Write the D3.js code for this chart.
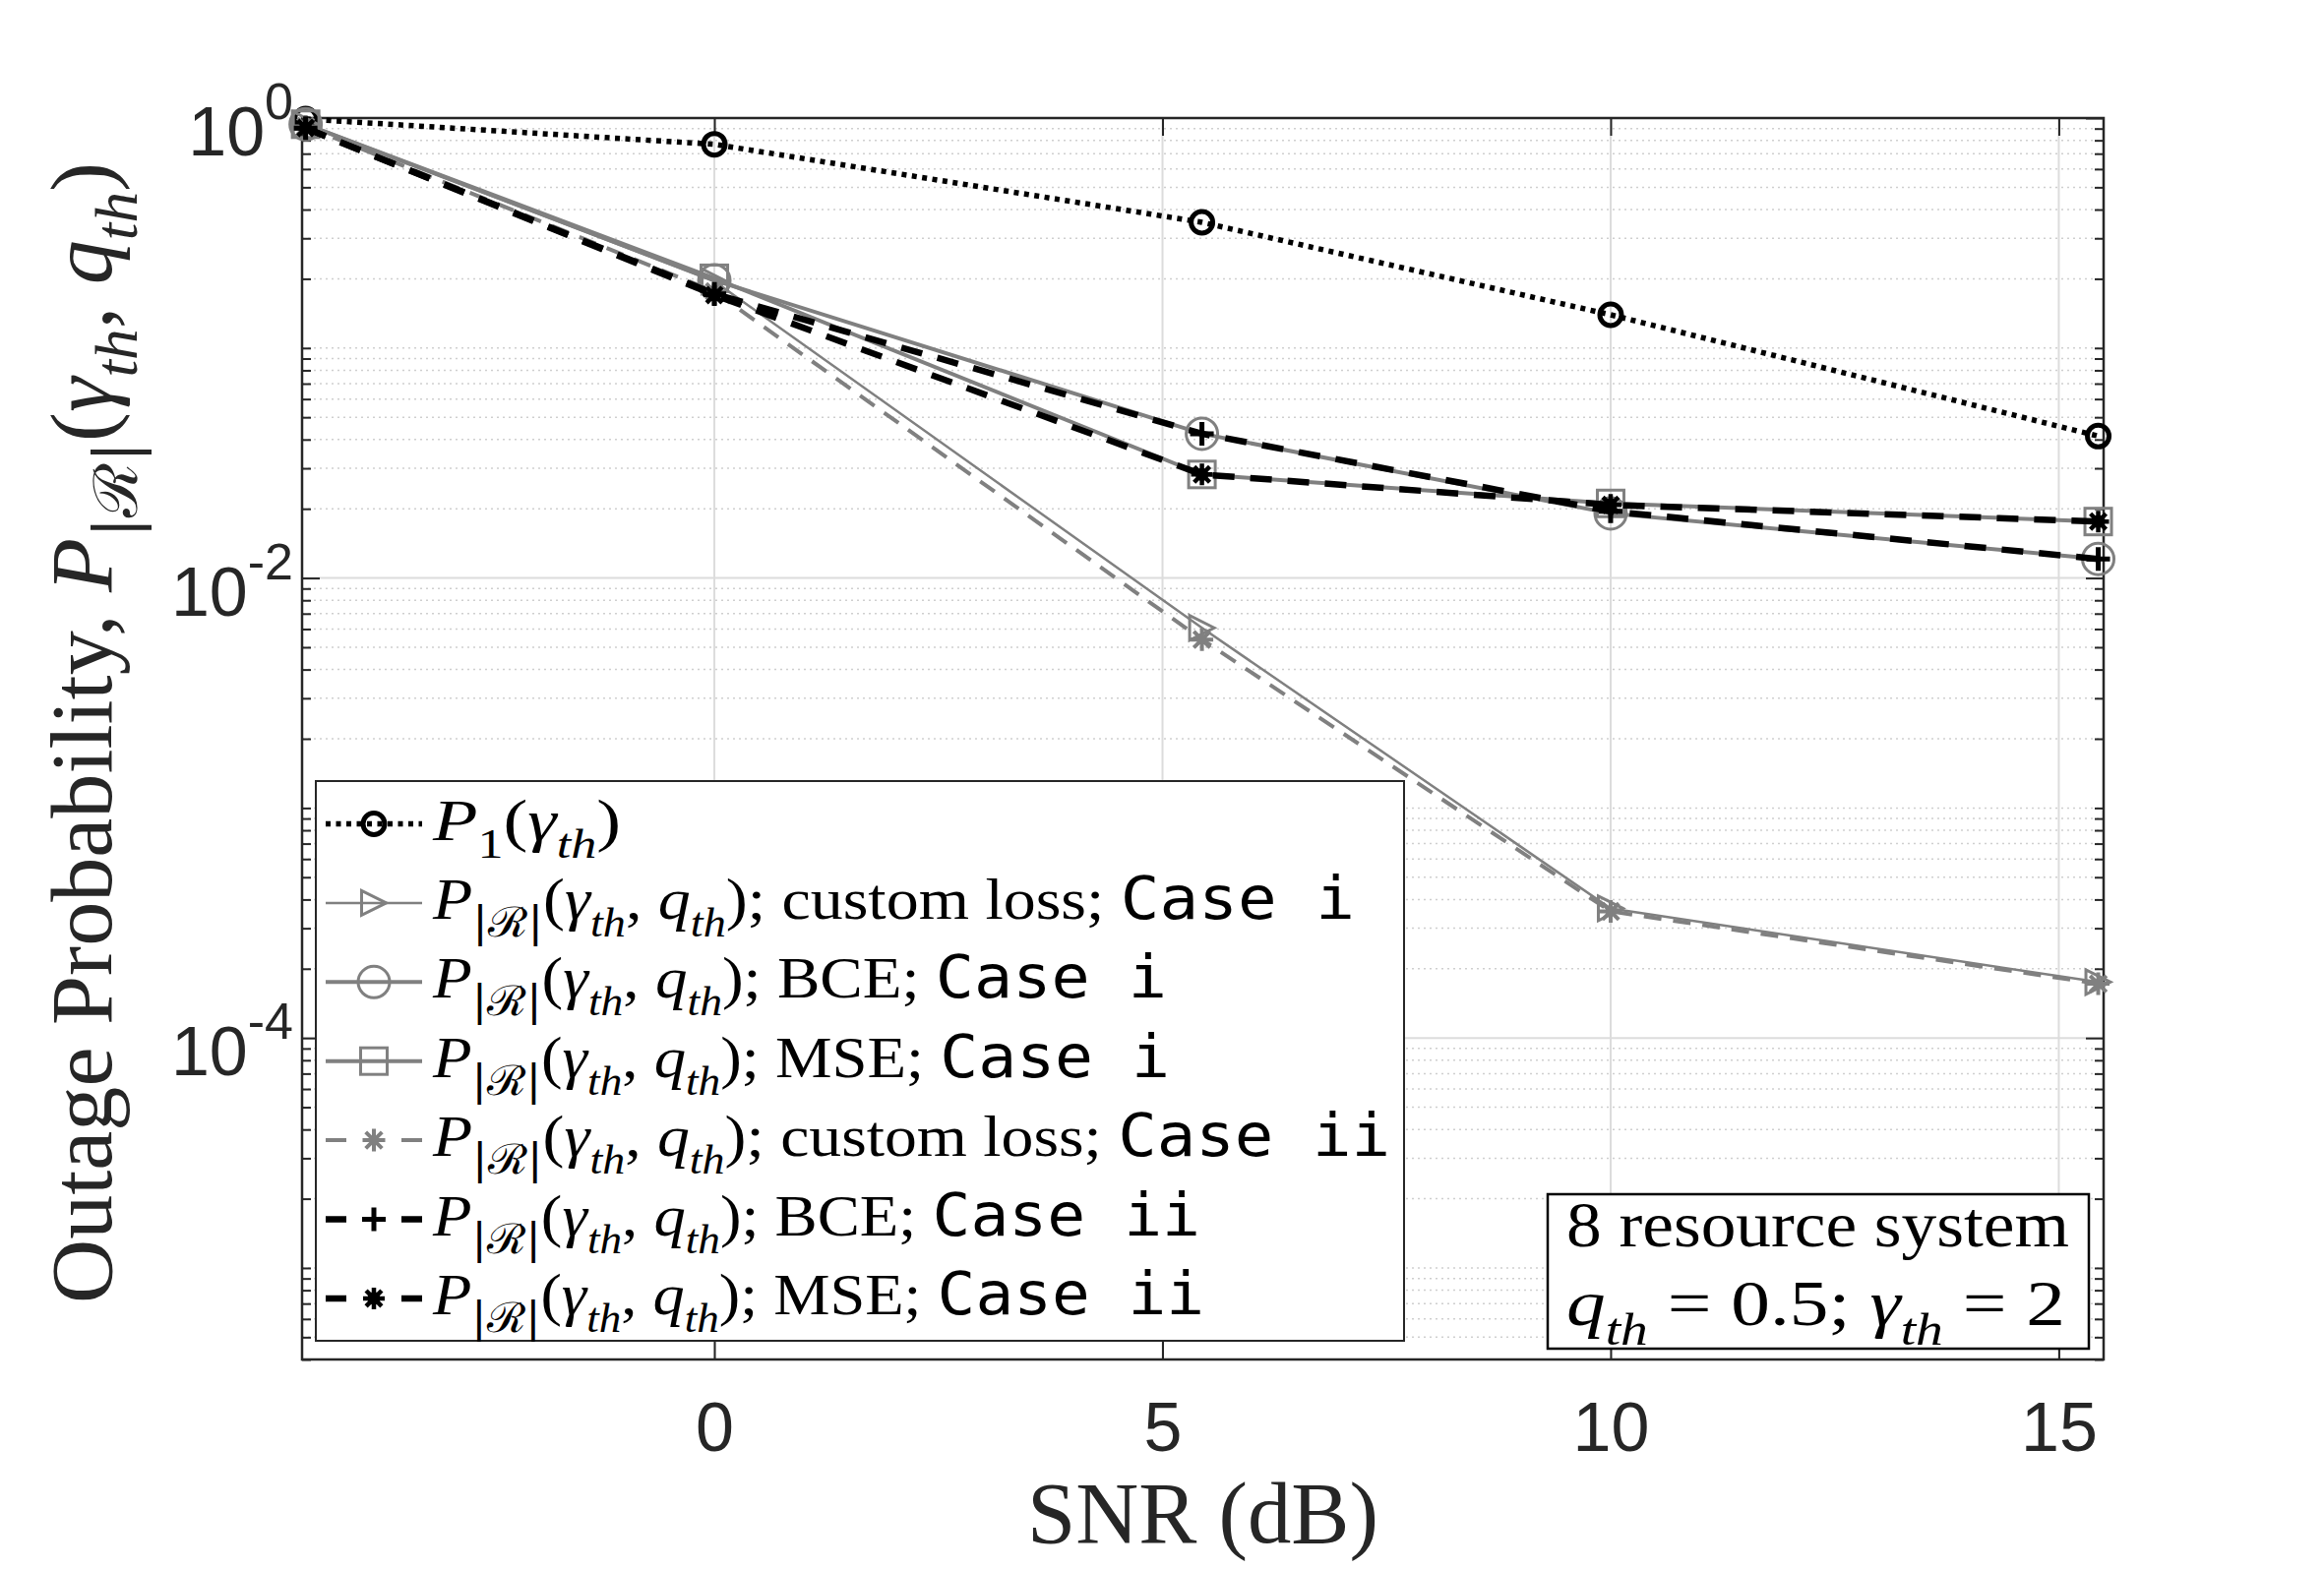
<!DOCTYPE html>
<html>
<head>
<meta charset="utf-8">
<script src="https://cdn.jsdelivr.net/npm/d3@7"></script>
<style>
  body { margin: 0; background: #fff; }
</style>
</head>
<body>
<svg id="chart"></svg>
<script>
// values (SNR in dB, outage probability)
const snrDb = [-4.56, 0, 5.44, 10, 15.44];
const p1 = [0.99, 0.769, 0.352, 0.1395, 0.0414];
const customCaseI = [0.94, 0.195, 0.00607, 3.66e-4, 1.75e-4];
const bceCaseI = [0.94, 0.197, 0.0424, 0.0191, 0.0121];
const mseCaseI = [0.94, 0.201, 0.0282, 0.0211, 0.0176];
const customCaseII = [0.92, 0.176, 0.0054, 3.55e-4, 1.72e-4];
const bceCaseII = [0.905, 0.172, 0.0424, 0.0195, 0.0121];
const mseCaseII = [0.905, 0.170, 0.0282, 0.0208, 0.0176];

const xTicks = [0, 5, 10, 15];
const yTickExps = [0, -2, -4];

// legend labels: [text, style] pieces
const mathPR = [["P", "i"], ["|ℛ|", "subcal"], ["(", "r"], ["γ", "i"], ["th", "subi"], [", ", "r"], ["q", "i"], ["th", "subi"], [")", "r"], ["; ", "r"]];
const legendLabels = [
  [["P", "i"], ["1", "sub"], ["(", "r"], ["γ", "i"], ["th", "subi"], [")", "r"]],
  mathPR.concat([["custom loss; ", "r"], ["Case i", "mono"]]),
  mathPR.concat([["BCE; ", "r"], ["Case i", "mono"]]),
  mathPR.concat([["MSE; ", "r"], ["Case i", "mono"]]),
  mathPR.concat([["custom loss; ", "r"], ["Case ii", "mono"]]),
  mathPR.concat([["BCE; ", "r"], ["Case ii", "mono"]]),
  mathPR.concat([["MSE; ", "r"], ["Case ii", "mono"]])
];
const legendWidths = [191, 937, 746, 749, 973, 780, 784];

const W = 2362, H = 1595;
const box = { left: 307, right: 2138, top: 120, bottom: 1382 };
const gray = "#808080", ink = "#262626";

const series = [
  { values: p1, color: "#000", width: 5.5, dash: "5 5.5", marker: "circle", size: 11, mw: 5 },
  { values: customCaseI, color: gray, width: 2.5, dash: null, marker: "triangle", size: 25, mw: 3 },
  { values: bceCaseI, color: gray, width: 4, dash: null, marker: "circle", size: 16, mw: 3 },
  { values: mseCaseI, color: gray, width: 4, dash: null, marker: "square", size: 27, mw: 3 },
  { values: customCaseII, color: gray, width: 4, dash: "18 12", marker: "asterisk", size: 23, mw: 4 },
  { values: bceCaseII, color: "#000", width: 6.5, dash: "22 16", marker: "plus", size: 24, mw: 5 },
  { values: mseCaseII, color: "#000", width: 6.5, dash: "22 16", marker: "blob", size: 22, mw: 4.5 }
];

const svg = d3.select("#chart").attr("width", W).attr("height", H)
  .style("font-family", "'Liberation Serif', serif");

const x = d3.scaleLinear().domain([-4.6, 15.5]).range([box.left, box.right]);
const y = d3.scaleLog().domain([4e-6, 1]).range([box.bottom, box.top]);

const majorY = yTickExps.map(e => Math.pow(10, e));
const minorY = [];
for (let k = 0; k >= -6; k--) {
  for (let m = 1; m <= 9; m++) {
    const v = m * Math.pow(10, k);
    if (v < 4e-6 || v > 1) continue;
    if (m === 1 && yTickExps.includes(k)) continue;
    minorY.push(v);
  }
}

// grid
const grid = svg.append("g");
grid.selectAll(".minor").data(minorY).enter().append("line")
  .attr("x1", box.left).attr("x2", box.right)
  .attr("y1", d => y(d)).attr("y2", d => y(d))
  .attr("stroke", "#cfcfcf").attr("stroke-width", 1.5).attr("stroke-dasharray", "2 4");
grid.selectAll(".majory").data(majorY).enter().append("line")
  .attr("x1", box.left).attr("x2", box.right)
  .attr("y1", d => y(d)).attr("y2", d => y(d))
  .attr("stroke", "#dcdcdc").attr("stroke-width", 2);
grid.selectAll(".majorx").data(xTicks).enter().append("line")
  .attr("x1", d => x(d)).attr("x2", d => x(d))
  .attr("y1", box.top).attr("y2", box.bottom)
  .attr("stroke", "#dcdcdc").attr("stroke-width", 2);

// axes (ticks inward, on all four sides)
function styleAxis(g) {
  g.select(".domain").remove();
  g.selectAll(".tick line").attr("stroke", ink).attr("stroke-width", 2);
}
svg.append("g").attr("transform", `translate(0,${box.bottom})`)
  .call(d3.axisBottom(x).tickValues(xTicks).tickSize(-18).tickPadding(43).tickFormat(d3.format("d")))
  .call(styleAxis)
  .call(g => g.selectAll("text").attr("fill", ink).attr("font-size", 70)
    .attr("font-family", "'Liberation Sans', Arial, sans-serif"));
svg.append("g").attr("transform", `translate(0,${box.top})`)
  .call(d3.axisTop(x).tickValues(xTicks).tickSize(-18).tickFormat(""))
  .call(styleAxis);
[[d3.axisLeft, box.left], [d3.axisRight, box.right]].forEach(([ax, pos]) => {
  svg.append("g").attr("transform", `translate(${pos},0)`)
    .call(ax(y).tickValues(majorY).tickSize(-18).tickFormat(""))
    .call(styleAxis);
  svg.append("g").attr("transform", `translate(${pos},0)`)
    .call(ax(y).tickValues(minorY).tickSize(-9).tickFormat(""))
    .call(styleAxis);
});
svg.append("rect")
  .attr("x", box.left).attr("y", box.top)
  .attr("width", box.right - box.left).attr("height", box.bottom - box.top)
  .attr("fill", "none").attr("stroke", ink).attr("stroke-width", 2.5);

// y tick labels 10^k
const yLab = svg.append("g").attr("font-family", "'Liberation Sans', Arial, sans-serif")
  .attr("fill", ink).attr("text-anchor", "end");
yTickExps.forEach(e => {
  const t = yLab.append("text").attr("x", 298).attr("y", y(Math.pow(10, e)) + 38).attr("font-size", 70);
  t.append("tspan").text("10");
  t.append("tspan").text(e === 0 ? "0" : "-" + Math.abs(e)).attr("font-size", 52).attr("dy", -37);
});

// markers
function drawMarker(g, type, cx, cy, s, color, mw) {
  const h = s / 2;
  if (type === "circle") {
    g.append("circle").attr("cx", cx).attr("cy", cy).attr("r", s)
      .attr("fill", "none").attr("stroke", color).attr("stroke-width", mw);
  } else if (type === "square") {
    g.append("rect").attr("x", cx - h).attr("y", cy - h).attr("width", s).attr("height", s)
      .attr("fill", "none").attr("stroke", color).attr("stroke-width", mw);
  } else if (type === "triangle") {
    g.append("path").attr("d", `M${cx + h},${cy}L${cx - h},${cy - h}L${cx - h},${cy + h}Z`)
      .attr("fill", "none").attr("stroke", color).attr("stroke-width", mw);
  } else {
    const d = h * 0.72;
    let p = `M${cx - h},${cy}L${cx + h},${cy}M${cx},${cy - h}L${cx},${cy + h}`;
    if (type !== "plus") p += `M${cx - d},${cy - d}L${cx + d},${cy + d}M${cx - d},${cy + d}L${cx + d},${cy - d}`;
    g.append("path").attr("d", p).attr("fill", "none").attr("stroke", color).attr("stroke-width", mw);
    if (type === "blob") g.append("circle").attr("cx", cx).attr("cy", cy).attr("r", h * 0.6).attr("fill", color);
  }
}

const line = d3.line().x(d => x(d[0])).y(d => y(d[1]));
const plot = svg.append("g");
series.forEach(s => {
  const pts = snrDb.map((v, i) => [v, s.values[i]]);
  plot.append("path").datum(pts).attr("d", line)
    .attr("fill", "none").attr("stroke", s.color).attr("stroke-width", s.width)
    .attr("stroke-dasharray", s.dash);
  pts.forEach(p => drawMarker(plot, s.marker, x(p[0]), y(p[1]), s.size, s.color, s.mw));
});

// rich text helper
function addRich(text, segs, size) {
  let shift = 0;
  segs.forEach(([t, st]) => {
    const isSub = st.startsWith("sub");
    const target = isSub ? size * 0.3 : 0;
    const ts = text.append("tspan").text(t);
    if (target - shift !== 0) ts.attr("dy", target - shift);
    shift = target;
    if (isSub) ts.attr("font-size", size * 0.7);
    if (st === "i" || st === "subi") ts.attr("font-style", "italic");
    if (st === "subcal") ts.attr("font-family", "'DejaVu Serif', serif");
    if (st === "mono") ts.attr("font-family", "'DejaVu Sans Mono', monospace");
  });
}

// legend
const lg = svg.append("g");
lg.append("rect").attr("x", 321).attr("y", 794).attr("width", 1106).attr("height", 569)
  .attr("fill", "#fff").attr("stroke", ink).attr("stroke-width", 2);
series.forEach((s, i) => {
  const cy = 837.5 + i * 80.4;
  lg.append("line").attr("x1", 331).attr("x2", 429).attr("y1", cy).attr("y2", cy)
    .attr("stroke", s.color).attr("stroke-width", s.width)
    .attr("stroke-dasharray", s.dash ? (i === 0 ? s.dash : "21 56") : null);
  drawMarker(lg, s.marker, 380, cy, s.size, s.color, s.mw);
  const t = lg.append("text").attr("x", 440).attr("y", cy + 16).attr("font-size", 60)
    .attr("fill", "#000")
    .attr("textLength", legendWidths[i]).attr("lengthAdjust", "spacingAndGlyphs");
  addRich(t, legendLabels[i], 60);
});

// annotation box
const ann = svg.append("g");
ann.append("rect").attr("x", 1573).attr("y", 1214).attr("width", 550).attr("height", 157)
  .attr("fill", "#fff").attr("stroke", "#000").attr("stroke-width", 2.5);
ann.append("text").attr("x", 1592).attr("y", 1267).attr("font-size", 66)
  .attr("textLength", 511).attr("lengthAdjust", "spacingAndGlyphs").text("8 resource system");
const ann2 = ann.append("text").attr("x", 1592).attr("y", 1347).attr("font-size", 66)
  .attr("textLength", 507).attr("lengthAdjust", "spacingAndGlyphs");
addRich(ann2, [["q", "i"], ["th", "subi"], [" = 0.5; ", "r"], ["γ", "i"], ["th", "subi"], [" = 2", "r"]], 66);

// axis labels
svg.append("text").attr("x", (box.left + box.right) / 2).attr("y", 1568)
  .attr("text-anchor", "middle").attr("font-size", 88).attr("fill", ink)
  .attr("textLength", 357).attr("lengthAdjust", "spacingAndGlyphs").text("SNR (dB)");
const yl = svg.append("text").attr("transform", "translate(113,745) rotate(-90)")
  .attr("text-anchor", "middle").attr("font-size", 88).attr("fill", ink)
  .attr("textLength", 1160).attr("lengthAdjust", "spacingAndGlyphs");
addRich(yl, [["Outage Probability, ", "r"], ["P", "i"], ["|ℛ|", "subcal"], ["(", "r"], ["γ", "i"], ["th", "subi"], [", ", "r"], ["q", "i"], ["th", "subi"], [")", "r"]], 88);
</script>
</body>
</html>
